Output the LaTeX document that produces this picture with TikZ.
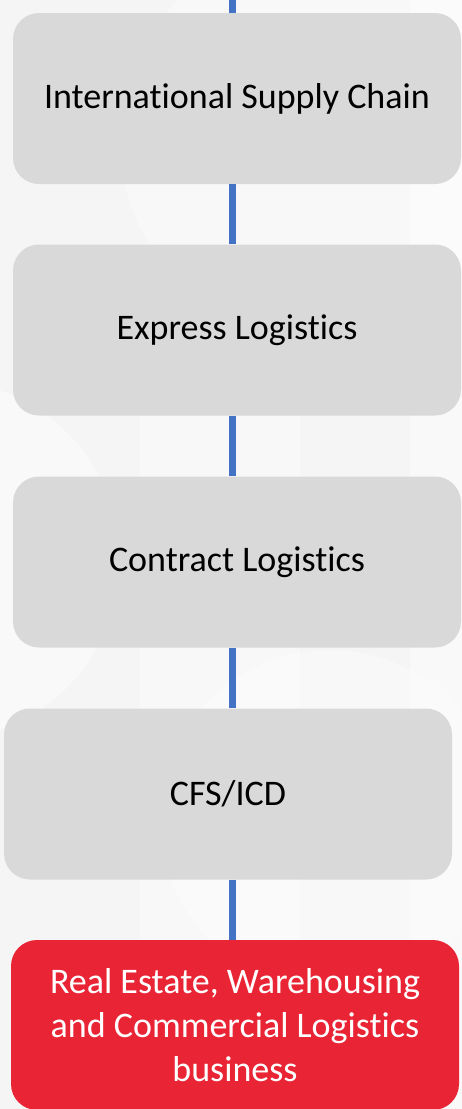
\documentclass[tikz,border=0pt]{standalone}
\usepackage{fontspec}
\setmainfont{Carlito}[Ligatures={NoCommon}]
\definecolor{boxgray}{HTML}{D9D9D9}
\definecolor{linkblue}{HTML}{4472C4}
\definecolor{accentred}{HTML}{E92535}
\definecolor{bgtone}{HTML}{F5F5F5}
\definecolor{bglight}{HTML}{F9F9F9}
\begin{document}
\begin{tikzpicture}[x=1pt,y=-1pt,
  stage/.style={rectangle, rounded corners=26pt, fill=boxgray, draw=none,
    minimum width=448pt, minimum height=171pt, inner sep=0pt, align=center,
    font=\fontsize{36}{44}\selectfont, text=black},
  finalstage/.style={stage, fill=accentred, text=white, minimum height=170pt},
  link/.style={draw=linkblue, line width=7.5pt}]
  % canvas and faint backdrop shapes
  \fill[bgtone] (0,0) rectangle (462,1109);
  \useasboundingbox (0,0) rectangle (462,1109);
  \begin{scope}
    \clip (0,0) rectangle (462,1109);
    \fill[bglight] (410,0) rectangle (462,1109);
    \fill[white, opacity=0.35] (320,140) circle (200);
    \fill[white, opacity=0.3] (330,820) circle (170);
    \fill[bglight] (-60,560) circle (180);
    \fill[white, opacity=0.3] (140,300) rectangle (300,1109);
  \end{scope}
  % stages
  \node[stage] (s1) at (237,98.5) {International Supply Chain};
  \node[stage] (s2) at (237,330) {Express Logistics};
  \node[stage] (s3) at (237,562) {Contract Logistics};
  \node[stage] (s4) at (228,794) {CFS/ICD};
  \node[finalstage] (s5) at (235,1025) {Real Estate, Warehousing\\and Commercial Logistics\\business};
  % spine
  \coordinate (spine) at (232.5,0);
  \draw[link] (spine) -- (s1.north -| spine);
  \draw[link] (s1.south -| spine) -- (s2.north -| spine);
  \draw[link] (s2.south -| spine) -- (s3.north -| spine);
  \draw[link] (s3.south -| spine) -- (s4.north -| spine);
  \draw[link] (s4.south -| spine) -- (s5.north -| spine);
\end{tikzpicture}
\end{document}
